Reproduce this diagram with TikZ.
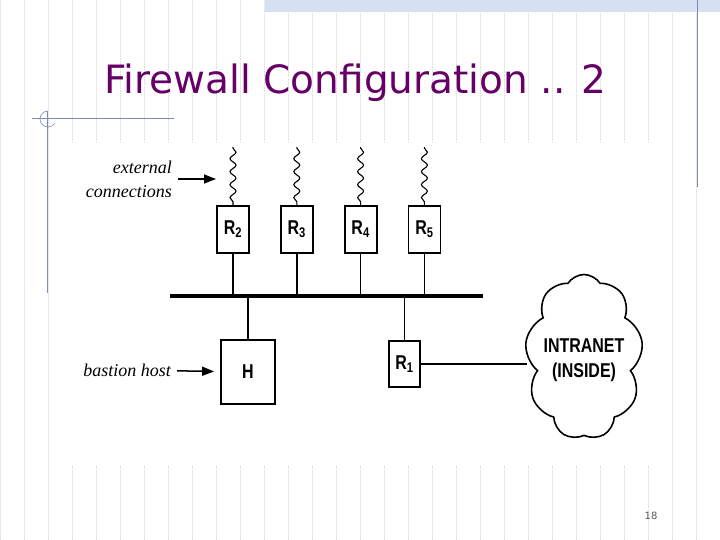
\documentclass[tikz,border=0pt]{standalone}
\usepackage{fontspec}
\setmainfont{Liberation Serif}
\newfontfamily\titlefont{DejaVu Sans}
\newfontfamily\condfont[FakeStretch=0.8]{Liberation Sans}
\usetikzlibrary{positioning,shapes.symbols,decorations.pathmorphing,arrows.meta}
\definecolor{titlepurple}{RGB}{102,0,102}
\definecolor{slateline}{RGB}{125,140,180}
\definecolor{bandblue}{RGB}{214,224,243}

\begin{document}
\begin{tikzpicture}[x=1pt, y=-1pt, >={Stealth[length=12pt, width=9pt, inset=0pt]},
  router/.style={rectangle, draw, line width=1.8pt, minimum width=32pt, minimum height=47pt, inner sep=0pt, font=\condfont\bfseries\fontsize{20}{20}\selectfont},
  wavy/.style={decorate, decoration={snake, segment length=13pt, amplitude=3pt, pre length=1pt, post length=1pt}, line width=1.1pt},
  link/.style={line width=1.5pt},
  tag/.style={font=\itshape\fontsize{18}{24}\selectfont, inner sep=0pt},
  gridline/.style={gray!28, densely dotted, line width=0.6pt}]

  \useasboundingbox (0,0) rectangle (720,540);

  % slide background
  \draw[gridline] (0,0) grid[step=24] (720,540);
  \fill[bandblue] (265,0) rectangle (720,12);
  \draw[slateline, line width=1pt] (697,0) -- (697,187);
  \draw[slateline, line width=1pt] (32,119) -- (174,119);
  \draw[slateline, line width=1pt] (47,111) -- (47,293);
  \draw[slateline, line width=0.6pt] (48,111) arc[start angle=270, end angle=30, radius=8];
  \fill[white] (72,143) rectangle (653,465);

  \node[anchor=base west, inner sep=0pt, text=titlepurple, font=\titlefont\fontsize{39}{39}\selectfont] (title) at (104,94) {Firewall Configuration .. 2};

  % routers and hosts
  \node[router] (R2) at (233,229.5) {R\textsubscript{2}};
  \node[router] (R3) [right = 30pt of R2] {R\textsubscript{3}};
  \node[router] (R4) [right = 30pt of R3] {R\textsubscript{4}};
  \node[router] (R5) [right = 30pt of R4] {R\textsubscript{5}};
  \node[fill, minimum width=313pt, minimum height=4.5pt, inner sep=0pt] (bus) at (326.5,296) {};
  \node[router, minimum width=54pt, minimum height=64pt] (H) at (248,372) {H};
  \node[router, minimum width=31pt, minimum height=46pt] (R1) at (404.5,364) {R\textsubscript{1}};
  \node[cloud, draw, line width=1.6pt, cloud puffs=9, cloud puff arc=115, aspect=0.7, minimum width=118pt, minimum height=165pt, inner sep=0pt] (intranet) at (584,357) {};
  \node[align=center, inner sep=0pt, font=\condfont\bfseries\fontsize{20}{25}\selectfont] (intranetText) at (584,360) {INTRANET\\(INSIDE)};

  \coordinate[above = 58pt of R2.north] (w2);
  \coordinate[above = 58pt of R3.north] (w3);
  \coordinate[above = 58pt of R4.north] (w4);
  \coordinate[above = 58pt of R5.north] (w5);

  % labels
  \node[tag, align=right, anchor=east] (ext) at (172,179) {external\\connections};
  \node[tag, anchor=east] (bastion) at (171,370) {bastion host};
  \coordinate (extTip) at (216,179);

  \node[font=\titlefont\fontsize{10}{10}\selectfont, text=gray!70!black] (pagenum) at (651,516) {18};

  \draw[wavy] (w2) -- (R2.north);
  \draw[wavy] (w3) -- (R3.north);
  \draw[wavy] (w4) -- (R4.north);
  \draw[wavy] (w5) -- (R5.north);
  \draw[link] (R2) -- (R2 |- bus.north);
  \draw[link] (R3) -- (R3 |- bus.north);
  \draw[link] (R4) -- (R4 |- bus.north);
  \draw[link] (R5) -- (R5 |- bus.north);
  \draw[link, line width=1.8pt] (bus.south -| H) -- (H);
  \draw[link, line width=1.8pt] (bus.south -| R1) -- (R1);
  \draw[link, line width=1.8pt] (R1.east) -- (R1.east -| intranet.west);
  \draw[->, line width=1.5pt] (ext.east) ++(6pt,0) -- (extTip);
  \draw[->, line width=1.5pt, shorten <=6pt, shorten >=6pt] (bastion) -- (H);
\end{tikzpicture}
\end{document}
